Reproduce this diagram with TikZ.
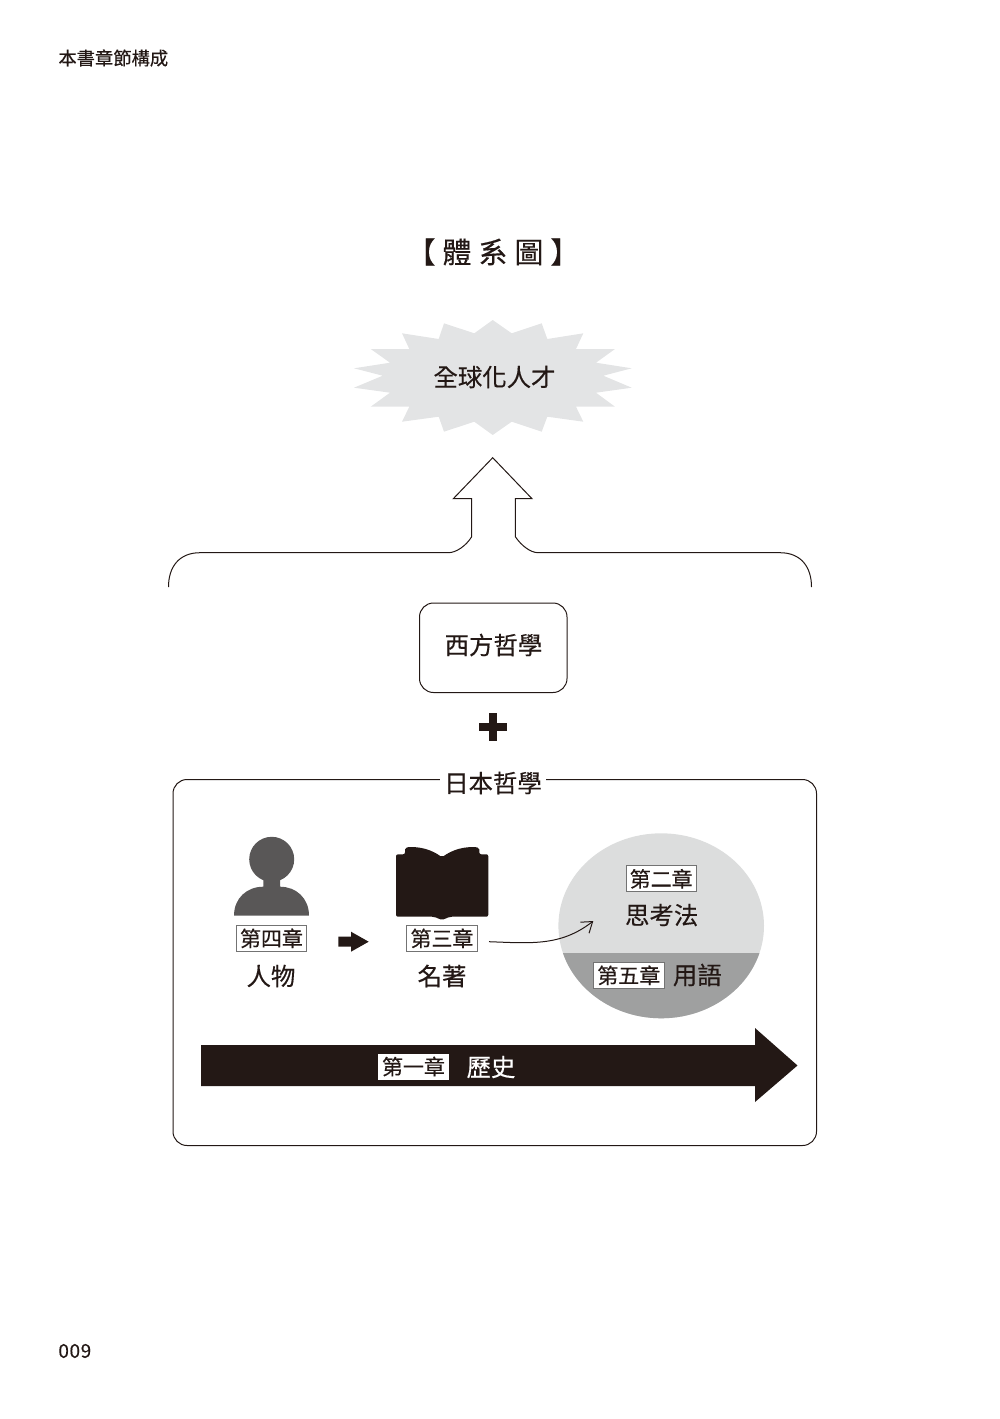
\documentclass[tikz,border=0pt]{standalone}
\usepackage{fontspec}
\usepackage{xcolor}
\usetikzlibrary{arrows.meta}
\setmainfont{Noto Sans CJK TC}[FakeBold=0.35]
\definecolor{inkdark}{HTML}{231815}
\definecolor{persongray}{HTML}{595757}
\definecolor{burstgray}{HTML}{E3E4E5}
\definecolor{thinkgray}{HTML}{DCDDDD}
\definecolor{termgray}{HTML}{9FA0A0}
\tikzset{
	bodytext/.style={text=inkdark, inner sep=0pt, font=\fontsize{12.2}{14}\selectfont},
	chapterbox/.style={draw=black!55, line width=0.4pt, fill=white, text=inkdark, inner sep=0pt,
		minimum width=35.3pt, minimum height=13pt, font=\fontsize{10.5}{12}\selectfont},
	outline/.style={draw=inkdark, line width=0.5pt}
}
\begin{document}
\begin{tikzpicture}[x=0.5pt, y=-0.5pt]
	\useasboundingbox (0,0) rectangle (1000,1419);
	\node[bodytext, anchor=west, font=\fontsize{9.15}{11}\selectfont] (pagehead) at (58,58) {本書章節構成};
	\node[bodytext, anchor=west, font=\fontsize{9.5}{11}\selectfont] (pagenum) at (58,1351) {0\hspace{0.3pt}0\hspace{0.3pt}9};
	\node[bodytext, font=\fontsize{14.5}{16}\selectfont] (maintitle) at (493,252) {【\hspace{3.5pt}體\hspace{3.5pt}系\hspace{3.5pt}圖\hspace{3.5pt}】};
	\path[fill=burstgray] (492.7,320) -- (511.7,333.3) -- (541.7,323.3) -- (547.3,339) -- (583.3,333.3) -- (576,349)
		-- (615,349) -- (596,362.7) -- (631.7,368.3) -- (603.3,375.7) -- (631.7,387.7) -- (596,392.7)
		-- (615,406.7) -- (576,406.7) -- (583.3,421.7) -- (547.3,416.7) -- (541.7,431.7) -- (511.7,421.7)
		-- (492.7,435) -- (474.3,421.7) -- (444,431.7) -- (438.7,416.7) -- (402,421.7) -- (409.3,406.7)
		-- (370.7,406.7) -- (390,392.7) -- (354,387.7) -- (382.7,375.7) -- (354,368.3) -- (390,362.7)
		-- (370.7,349) -- (409.3,349) -- (402,333.3) -- (438.7,339) -- (444,323.3) -- (474.3,333.3) -- cycle;
	\node[bodytext] (talent) at (494.5,377) {全球化人才};
	\draw[outline] (168.5,587) .. controls (168.5,567) and (179,552.7) .. (200,552.7) -- (448.3,552.7)
		.. controls (456,552.7) and (466,546) .. (471.7,536.7) -- (471.7,498.7) -- (453.3,498.7) -- (492.7,457.7)
		-- (532,498.7) -- (515.3,498.7) -- (515.3,536.7) .. controls (521,545) and (530,552.7) .. (538.3,552.7)
		-- (780,552.7) .. controls (801,552.7) and (811.5,567) .. (811.5,587);
	\draw[outline, rounded corners=7pt] (419.5,603) rectangle (567,692.5);
	\node[bodytext] (western) at (493.5,645) {西方哲學};
	\fill[inkdark] (488.5,713) rectangle (496.5,741);
	\fill[inkdark] (479,723) rectangle (507,731);
	\draw[outline, rounded corners=7pt] (173,779.5) rectangle (816.5,1145.5);
	\node[bodytext, fill=white, inner xsep=2pt] (japanese) at (493,783) {日本哲學};
	\fill[persongray] (271.7,859.3) circle (11.25pt);
	\fill[persongray] (234,915.7) .. controls (234,898) and (247,886.7) .. (263.3,886.7) -- (263.3,875) -- (280,875)
		-- (280,886.7) .. controls (296,886.7) and (309,898) .. (309,915.7) -- cycle;
	\fill[inkdark, rounded corners=1pt] (396,854.3) -- (405,854.3) -- (405,847.5) .. controls (420,846) and (432,850) .. (442,857.3)
		.. controls (452,850) and (464,846) .. (479.3,847.5) -- (479.3,854.3) -- (488.3,854.3) -- (488.3,916.7)
		-- (450,916.7) -- (442,920) -- (434,916.7) -- (396,916.7) -- cycle;
	\node[chapterbox] (chapfour) at (271.5,938.3) {第四章};
	\node[chapterbox] (chapthree) at (442,938.3) {第三章};
	\node[bodytext] (person) at (271,976) {人物};
	\node[bodytext] (classics) at (442,976) {名著};
	\fill[inkdark] (338.3,936.7) -- (351,936.7) -- (351,931.7) -- (368.7,941.7) -- (351,951.7) -- (351,946.7) -- (338.3,946.7) -- cycle;
	\fill[thinkgray] (661.2,925.8) ellipse [x radius=51.4pt, y radius=46.25pt];
	\begin{scope}
		\clip (550,953.3) rectangle (770,1025);
		\fill[termgray] (661.2,925.8) ellipse [x radius=51.4pt, y radius=46.25pt];
	\end{scope}
	\coordinate (threeout) at (489,941.7);
	\coordinate (thinkin) at (593.3,921);
	\draw[inkdark, line width=0.5pt, -{Straight Barb[length=5pt,width=7pt]}] (threeout) to[out=-2, in=218] (thinkin);
	\node[chapterbox] (chaptwo) at (661.2,878.8) {第二章};
	\node[bodytext] (thinking) at (661.7,915) {思考法};
	\node[chapterbox] (chapfive) at (628.8,975.3) {第五章};
	\node[bodytext] (terms) at (697.3,975) {用語};
	\fill[inkdark] (201,1045) -- (755,1045) -- (755,1028) -- (797.5,1065.5) -- (755,1102) -- (755,1086) -- (201,1086) -- cycle;
	\node[chapterbox, draw=none] (chapone) at (413.5,1066.5) {第一章};
	\node[bodytext, text=white] (history) at (491,1067) {歷史};
\end{tikzpicture}
\end{document}
